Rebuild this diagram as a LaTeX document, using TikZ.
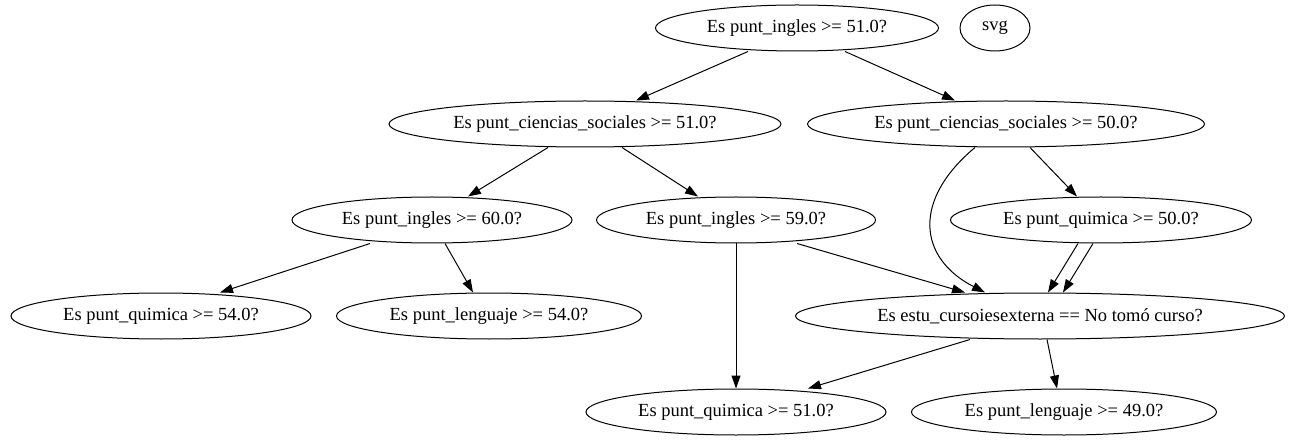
\documentclass[tikz,border=0pt]{standalone}
\usepackage{fontspec}
\setmainfont{Liberation Serif}
\usetikzlibrary{shapes.geometric,arrows.meta}
\newcommand{\lbl}[1]{\makebox[0pt]{#1}}
\begin{document}
\begin{tikzpicture}[x=1pt,y=-1pt,
		test/.style={ellipse,draw,line width=1pt,inner sep=0pt,minimum height=46pt,font=\fontsize{18.5}{22}\selectfont},
		edge/.style={-{Triangle[length=13pt,width=9pt]},line width=1pt}]
		\useasboundingbox (0,0) rectangle (1295,446);
		\node [test,minimum width=283pt] (n0) at (797,28) {\lbl{Es punt\_ingles >= 51.0?}};
		\node [test,minimum width=70pt] (svg) at (995,28) {\lbl{svg}};
		\node [test,minimum width=392pt] (n1) at (585,124) {\lbl{Es punt\_ciencias\_sociales >= 51.0?}};
		\node [test,minimum width=397pt] (n2) at (1006,124) {\lbl{Es punt\_ciencias\_sociales >= 50.0?}};
		\node [test,minimum width=280pt] (n3) at (432,220) {\lbl{Es punt\_ingles >= 60.0?}};
		\node [test,minimum width=279pt] (n4) at (736,220) {\lbl{Es punt\_ingles >= 59.0?}};
		\node [test,minimum width=301pt] (n5) at (1101,220) {\lbl{Es punt\_quimica >= 50.0?}};
		\node [test,minimum width=300pt] (n6) at (161,316) {\lbl{Es punt\_quimica >= 54.0?}};
		\node [test,minimum width=305pt] (n7) at (489,316) {\lbl{Es punt\_lenguaje >= 54.0?}};
		\node [test,minimum width=489pt] (n8) at (1040,316) {\lbl{Es estu\_cursoiesexterna == No tomó curso?}};
		\node [test,minimum width=300pt] (n9) at (736,412) {\lbl{Es punt\_quimica >= 51.0?}};
		\node [test,minimum width=305pt] (n10) at (1064,412) {\lbl{Es punt\_lenguaje >= 49.0?}};
		% edges
		\draw [edge] ([xshift=-49pt]n0.south) -- ([xshift=51pt]n1.north);
		\draw [edge] ([xshift=48pt]n0.south) -- ([xshift=-51pt]n2.north);
		\draw [edge] ([xshift=-37pt]n1.south) -- ([xshift=36pt]n3.north);
		\draw [edge] ([xshift=37pt]n1.south) -- ([xshift=-38pt]n4.north);
		\draw [edge] ([xshift=24pt]n2.south) -- ([xshift=-24pt]n5.north);
		\draw [edge] ([xshift=-31pt]n2.south) .. controls (912,200) and (918,258) .. ([xshift=-55pt]n8.north);
		\draw [edge] ([xshift=-62pt]n3.south) -- ([xshift=59pt]n6.north);
		\draw [edge] ([xshift=13pt]n3.south) -- ([xshift=-16pt]n7.north);
		\draw [edge] (n4.south) -- (n9.north);
		\draw [edge] ([xshift=61pt]n4.south) -- ([xshift=-75pt]n8.north);
		\draw [edge] ([xshift=-23pt]n5.south) -- ([xshift=8pt]n8.north);
		\draw [edge] ([xshift=-8pt]n5.south) -- ([xshift=23pt]n8.north);
		\draw [edge] ([xshift=-70pt]n8.south) -- ([xshift=72pt]n9.north);
		\draw [edge] ([xshift=7pt]n8.south) -- ([xshift=-7pt]n10.north);
\end{tikzpicture}
\end{document}
